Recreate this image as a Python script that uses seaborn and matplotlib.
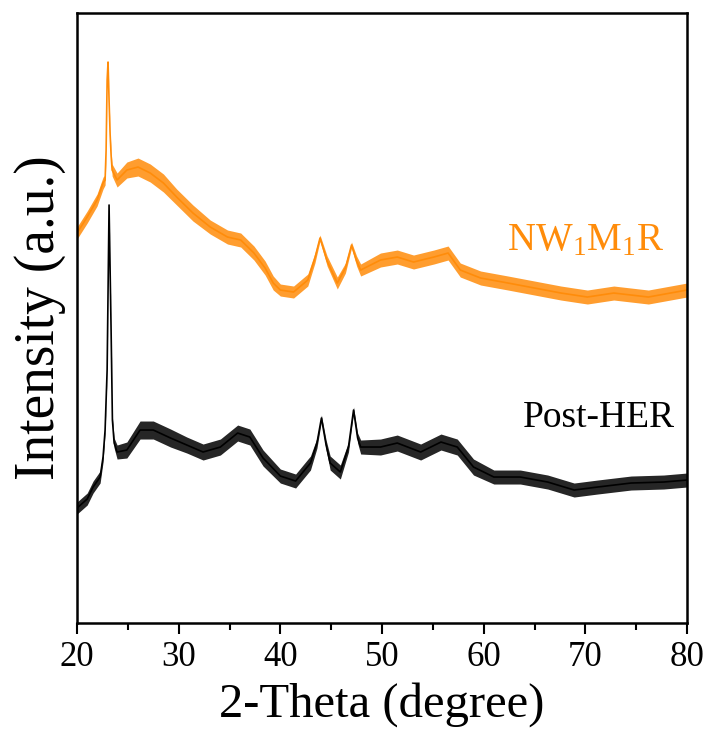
import matplotlib
matplotlib.use("Agg")
import matplotlib.pyplot as plt
from matplotlib.ticker import MultipleLocator, NullLocator
import numpy as np
import pandas as pd
import seaborn as sns

# --- XRD patterns (2-theta in degrees, intensity in arbitrary units) ---
nwmr_theta = [20.0, 21.0, 21.97, 22.56, 22.76, 22.86, 22.96, 23.05, 23.15, 23.25,
              23.35, 23.45, 23.94, 24.9, 26.0, 27.2, 28.5, 29.8, 31.4, 33.1,
              34.8, 36.1, 37.4, 38.5, 39.3, 40.0, 41.3, 42.7, 43.4, 43.9,
              44.6, 45.6, 46.4, 47.0, 47.5, 47.9, 49.85, 51.5, 53.1, 55.1,
              56.5, 57.7, 59.7, 62.4, 65.0, 67.6, 70.2, 72.8, 76.2, 80.0]
nwmr_int = [390, 406, 423, 440, 443, 473, 543, 561, 523, 490,
            468, 453, 443, 453, 456, 450, 440, 426, 410, 396,
            386, 383, 370, 355, 340, 333, 331, 343, 365, 385,
            362, 340, 355, 378, 362, 353, 363, 366, 361, 366,
            370, 353, 345, 340, 335, 330, 326, 330, 326, 333]
nwmr_noise = [6, 6, 6, 6, 5, 3, 2, 1, 2, 3,
              4, 6, 7, 8, 9, 9, 9, 8, 8, 7,
              7, 7, 7, 7, 7, 6, 6, 6, 5, 3,
              5, 6, 5, 3, 5, 6, 7, 7, 7, 7,
              7, 7, 7, 7, 7, 7, 7, 7, 7, 7]

post_theta = [20.0, 21.0, 21.58, 22.27, 22.56, 22.76, 22.96, 23.15, 23.35, 23.48,
              23.65, 23.94, 24.9, 26.2, 27.5, 29.2, 30.8, 32.4, 34.1, 35.8,
              37.0, 38.3, 40.0, 41.5, 42.96, 43.6, 44.04, 44.5, 44.9, 45.9,
              46.7, 47.2, 47.6, 47.9, 49.85, 51.5, 53.8, 55.8, 57.4, 59.0,
              61.0, 63.6, 66.3, 68.9, 71.2, 74.5, 77.7, 80.0]
post_int = [115, 124, 136, 146, 166, 193, 253, 418, 293, 203,
            180, 171, 173, 193, 193, 185, 178, 171, 176, 190,
            186, 165, 147, 142, 160, 180, 205, 178, 160, 151,
            176, 213, 185, 176, 176, 180, 171, 181, 176, 156,
            146, 146, 141, 133, 136, 140, 141, 143]
post_noise = [6, 6, 6, 6, 5, 3, 2, 1, 2, 3,
              5, 7, 8, 9, 9, 9, 8, 8, 8, 8,
              8, 8, 7, 7, 7, 5, 3, 5, 7, 7,
              5, 3, 5, 7, 8, 8, 8, 8, 8, 8,
              7, 7, 7, 7, 7, 7, 7, 7]

x_ticks = [20, 30, 40, 50, 60, 70, 80]
orange = "#FF8C0A"

sns.set_style("ticks")
plt.rcParams["font.family"] = ["Liberation Serif", "DejaVu Serif"]
plt.rcParams["mathtext.fontset"] = "custom"
plt.rcParams["mathtext.rm"] = "Liberation Serif"
plt.rcParams["mathtext.it"] = "Liberation Serif"
plt.rcParams["mathtext.default"] = "rm"
for key in ["text.color", "axes.labelcolor", "xtick.color", "ytick.color",
            "axes.edgecolor", "xtick.labelcolor", "ytick.labelcolor"]:
    plt.rcParams[key] = "black"

fig = plt.figure(figsize=(7.1, 7.53), dpi=100)
ax = fig.add_axes([0.1085, 0.1726, 0.8591, 0.8101])

df_nwmr = pd.DataFrame({"theta": nwmr_theta, "intensity": nwmr_int})
df_post = pd.DataFrame({"theta": post_theta, "intensity": post_int})

# noise band of each pattern
for th, it, nz, col in [(nwmr_theta, nwmr_int, nwmr_noise, orange),
                        (post_theta, post_int, post_noise, "black")]:
    it = np.asarray(it, float)
    nz = np.asarray(nz, float)
    ax.fill_between(th, it - nz, it + nz, color=col, alpha=0.85, lw=0)

sns.lineplot(data=df_nwmr, x="theta", y="intensity", color=orange, lw=1.2,
             estimator=None, sort=False, ax=ax)
sns.lineplot(data=df_post, x="theta", y="intensity", color="black", lw=1.2,
             estimator=None, sort=False, ax=ax)

ax.set_xlim(20, 80)
ax.set_ylim(0, 610)
ax.set_xticks(x_ticks)
ax.xaxis.set_minor_locator(MultipleLocator(5))
ax.yaxis.set_major_locator(NullLocator())
ax.yaxis.set_minor_locator(NullLocator())
ax.tick_params(axis="x", which="major", direction="out", length=8, width=1.5,
               labelsize=25, pad=5, top=False, colors="black")
ax.tick_params(axis="x", which="minor", direction="out", length=5, width=1.5,
               top=False, colors="black")
for s in ax.spines.values():
    s.set_linewidth(1.8)
    s.set_color("black")

ax.set_xlabel("2-Theta (degree)", fontsize=35, labelpad=6, color="black")
ax.set_ylabel("Intensity (a.u.)", fontsize=40, labelpad=8, color="black")

ax.text(70.05, 373, "NW$_1$M$_1$R", color=orange, fontsize=28,
        ha="center", va="baseline")
ax.text(71.3, 205, "Post-HER", color="black", fontsize=27,
        ha="center", va="center")

fig.savefig("out.png", dpi=100)
